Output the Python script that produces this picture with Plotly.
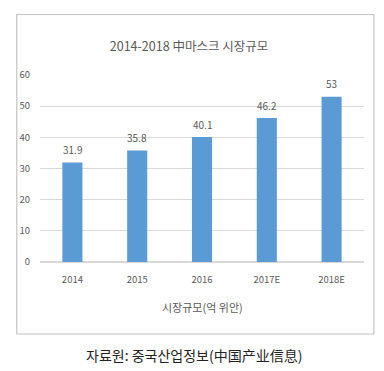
import plotly.graph_objects as go

categories = ["2014", "2015", "2016", "2017E", "2018E"]
values = [31.9, 35.8, 40.1, 46.2, 53]
value_labels = ["31.9", "35.8", "40.1", "46.2", "53"]
y_ticks = [0, 10, 20, 30, 40, 50, 60]

FONT = "Noto Sans CJK KR"
GREY = "#595959"

# page adds an 8px body margin; figure is drawn at (8, 8)
OFF = 8
W, H = 384 - OFF, 371 - OFF
L, R, T, B = 36 - OFF, W - (364 - OFF), 75 - OFF, H - (262 - OFF)
pw, ph = W - L - R, H - T - B

def px(x):
    return (x - OFF - L) / pw

def py(y):
    return (H - B - (y - OFF)) / ph

fig = go.Figure(go.Bar(
    x=categories, y=values,
    marker=dict(color="#5B9BD5", line=dict(width=0)),
    hoverinfo="x+y",
))

# value labels above bars (category index positions on the category axis)
annotations = [
    dict(x=i, y=v, text=t, xref="x", yref="y", showarrow=False,
         yanchor="middle", yshift=13,
         font=dict(size=10, color=GREY, family=FONT))
    for i, (v, t) in enumerate(zip(values, value_labels))
]
annotations += [
    dict(text="시장규모(억 위안)", xref="paper", yref="paper", x=px(201), y=py(307),
         xanchor="center", yanchor="middle", showarrow=False,
         font=dict(size=11, color=GREY, family=FONT)),
    dict(text="자료원: 중국산업정보(中国产业信息)", xref="paper", yref="paper",
         x=px(192), y=py(355), xanchor="center", yanchor="middle", showarrow=False,
         font=dict(size=14, color="#222222", family=FONT)),
]

fig.update_layout(
    width=W, height=H,
    margin=dict(l=L, r=R, t=T, b=B),
    paper_bgcolor="white", plot_bgcolor="white",
    bargap=0.69, showlegend=False,
    font=dict(family=FONT, color=GREY, size=10),
    title=dict(text="2014-2018 中마스크 시장규모", x=(189 - OFF) / W, xanchor="center",
               y=1 - (47 - OFF) / H, yanchor="middle", yref="container",
               font=dict(size=12.5, color=GREY, family=FONT)),
    xaxis=dict(type="category", categoryorder="array", categoryarray=categories,
               range=[-0.5, len(categories) - 0.5],
               showgrid=False, showline=False, ticks="outside", ticklen=9,
               tickcolor="rgba(0,0,0,0)", tickfont=dict(size=9.5, color=GREY)),
    yaxis=dict(range=[0, 60], tickvals=y_ticks, showgrid=True, gridcolor="#D9D9D9",
               gridwidth=1, zeroline=True, zerolinecolor="#D9D9D9", showline=False,
               ticks="outside", ticklen=7, tickcolor="rgba(0,0,0,0)",
               tickfont=dict(size=9.5, color=GREY)),
    shapes=[dict(type="rect", xref="paper", yref="paper",
                 x0=px(12.5), x1=px(374), y0=py(334), y1=py(14.5),
                 line=dict(color="#C4C4C4", width=1.2), layer="above")],
    annotations=annotations,
)

fig.write_html("out.html")
